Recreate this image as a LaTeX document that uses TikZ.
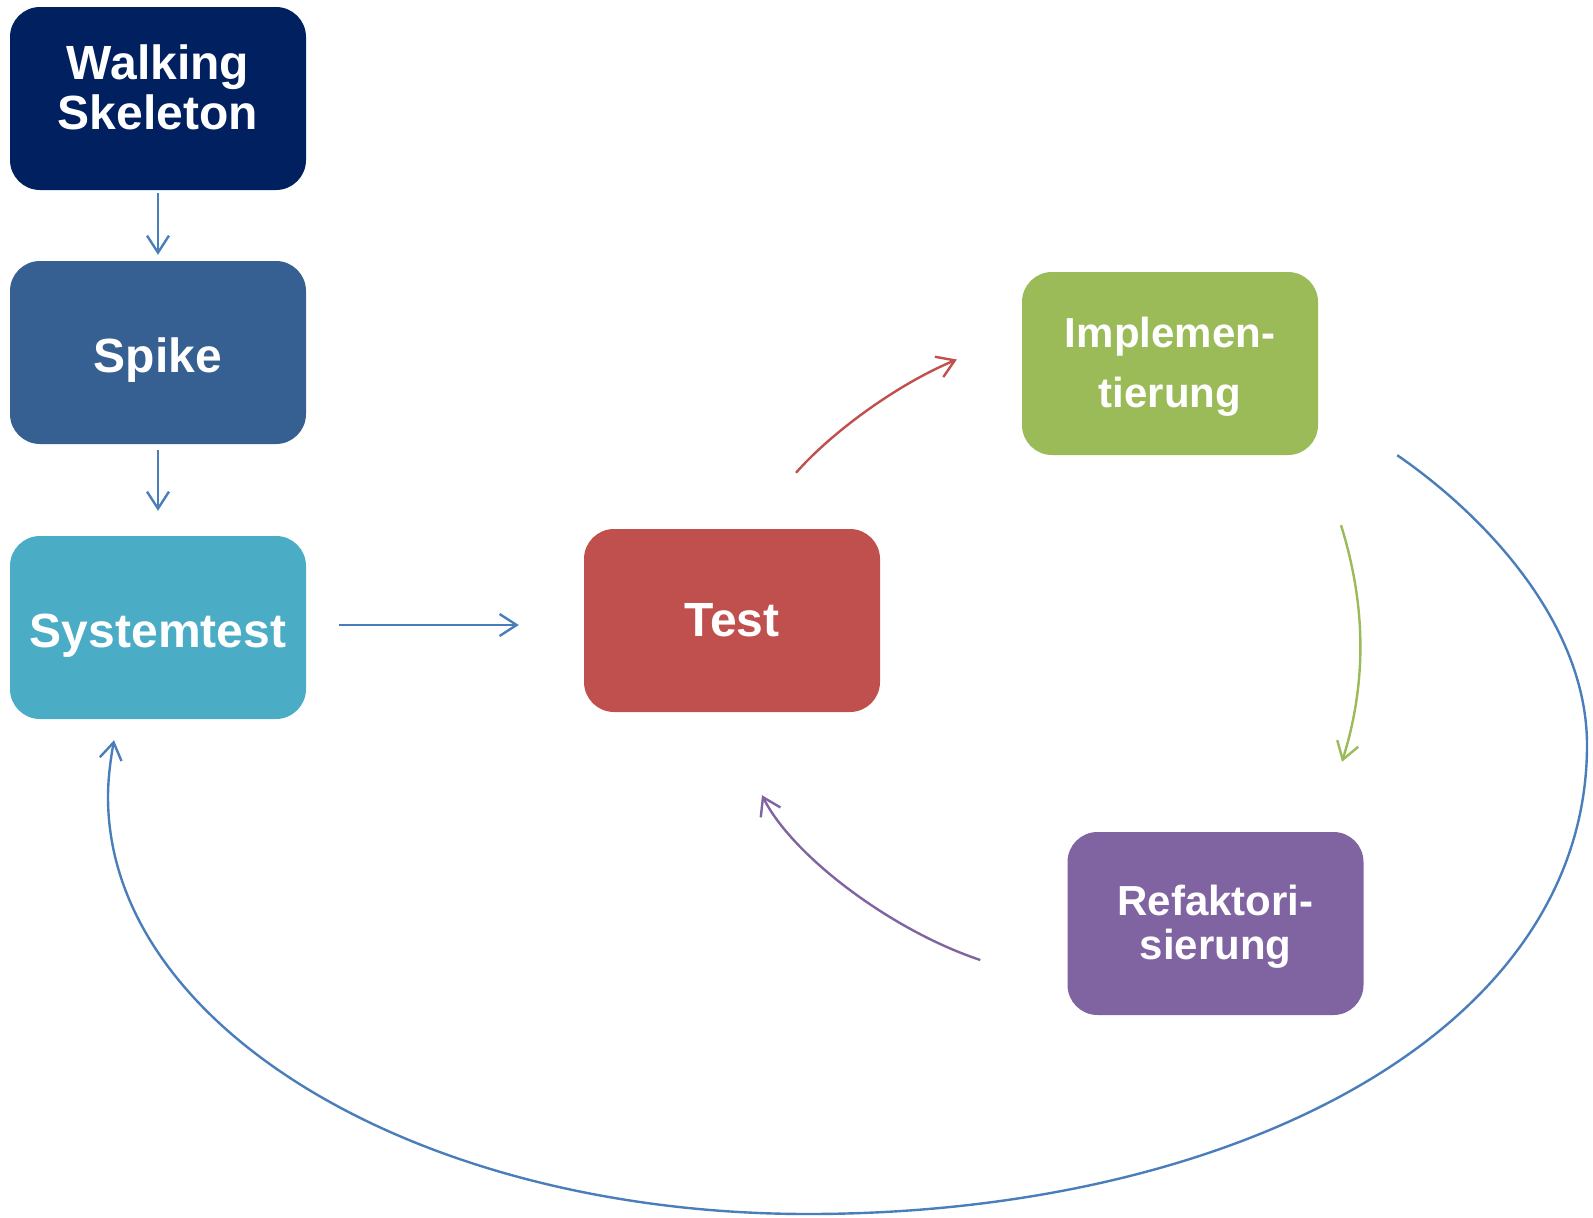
\documentclass[tikz,border=0pt]{standalone}
\usepackage{fontspec}
\setmainfont{Liberation Sans}
\usetikzlibrary{arrows.meta}

\definecolor{skeletonblue}{HTML}{002060}
\definecolor{spikeblue}{HTML}{376092}
\definecolor{systemcyan}{HTML}{4BACC6}
\definecolor{testred}{HTML}{C0504D}
\definecolor{implgreen}{HTML}{9BBB59}
\definecolor{refakviolet}{HTML}{8064A2}
\definecolor{arrowblue}{HTML}{4A7EBB}

\begin{document}
\begin{tikzpicture}[x=1pt, y=-1pt,
    box/.style={rectangle, rounded corners=30pt, minimum width=296pt, minimum height=183pt,
      inner sep=0pt, text=white, align=center, font=\bfseries\fontsize{48}{50}\selectfont},
    onebox/.style={box, text height=40pt, text depth=0pt},
    smallbox/.style={box, font=\bfseries\fontsize{42}{60}\selectfont},
    flow/.style={line width=2.4pt, -{Straight Barb[length=17pt, width=22pt]}}]
    \useasboundingbox (0,0) rectangle (1593,1218);
    \node[box, fill=skeletonblue] (skeleton) at (158,98.5) {Walking\\Skeleton\rule[-22pt]{0pt}{22pt}};
    \node[onebox, fill=spikeblue] (spike) at (158,352.5) {Spike};
    \node[onebox, fill=systemcyan] (systemtest) at (158,627.5) {Systemtest};
    \node[box, fill=testred] (test) at (732,620.5) {Test};
    \node[smallbox, fill=implgreen] (impl) at (1170,363.5) {\rule{0pt}{36pt}Implemen-\\tierung};
    \node[smallbox, fill=refakviolet, font=\bfseries\fontsize{42}{44}\selectfont] (refak) at (1215.5,923.5) {\rule{0pt}{36pt}Refaktori-\\sierung};
    \coordinate (loopright) at (1587,745);
    \coordinate (loopbottom) at (808,1214);
    \coordinate (loopleft) at (108,797);
    \draw[flow, arrowblue, shorten <=3pt, shorten >=6pt] (skeleton) -- (spike);
    \draw[flow, arrowblue, shorten <=6pt, shorten >=25pt] (spike) -- (systemtest);
    \draw[flow, arrowblue, shorten <=33pt, shorten >=65pt] ([yshift=2.5pt]systemtest.east) -- ([yshift=2.5pt]systemtest.east -| test.west);
    \draw[flow, testred] ([shift={(64,-56)}]test.north) .. controls +(35,-40) and +(-60,25) .. ([shift={(-65,-4)}]impl.west);
    \draw[flow, implgreen] ([shift={(171,70)}]impl.south) .. controls +(25,80) and +(25,-80) .. ([shift={(126.5,-70)}]refak.north);
    \draw[flow, refakviolet] ([shift={(-87,36.5)}]refak.west) .. controls +(-90,-30) and +(30,60) .. ([shift={(30,83)}]test.south);
    \draw[flow, arrowblue] ([shift={(79,0)}]impl.south east) .. controls +(90,62) and +(0,-120) .. (loopright)
      .. controls +(0,290) and +(420,0) .. (loopbottom)
      .. controls +(-389,0) and +(0,230) .. (loopleft)
      .. controls +(0,-20) and +(-3,17) .. ([shift={(-44,21)}]systemtest.south);
\end{tikzpicture}
\end{document}
